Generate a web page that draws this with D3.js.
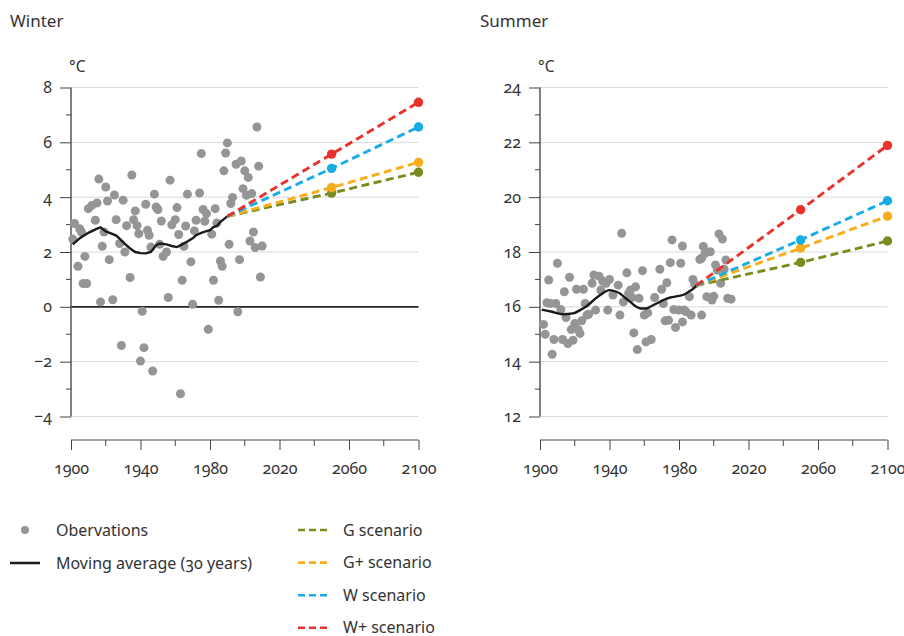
<!DOCTYPE html>
<html>
<head>
<meta charset="utf-8">
<script src="https://cdnjs.cloudflare.com/ajax/libs/d3/7.8.5/d3.min.js"></script>
<style>
  body { margin: 0; background: #fff; }
  svg text { font-family: "Noto Sans", "Open Sans", sans-serif; fill: #333; font-variant-numeric: oldstyle-nums; }
</style>
</head>
<body>
<div id="chart"></div>
<script>
// Winter observations (year, °C)
let winterYears = [1901,1902,1904,1905,1906,1907,1908,1909,1910,1912,1914,1915,1916,1917,1918,1919,1920,1921,1922,1924,1925,1926,1928,1929,1930,1931,1932,1934,1935,1936,1937,1938,1939,1940,1941,1942,1943,1944,1945,1946,1947,1948,1949,1950,1951,1952,1953,1955,1956,1957,1958,1960,1961,1962,1963,1964,1965,1966,1967,1969,1970,1971,1972,1974,1975,1976,1977,1978,1979,1981,1982,1983,1984,1985,1986,1987,1988,1989,1990,1991,1992,1993,1995,1996,1997,1998,1999,2000,2001,2002,2003,2004,2005,2006,2007,2008,2009,2010];
let winterTemps = [2.47,3.04,1.48,2.85,2.73,0.85,1.84,0.85,3.58,3.70,3.16,3.79,4.66,0.18,2.21,2.73,4.37,3.86,1.72,0.26,4.08,3.18,2.31,-1.41,3.89,2.0,2.96,1.07,4.81,3.18,3.50,2.96,2.67,-1.98,-0.16,-1.49,3.74,2.79,2.61,2.18,-2.34,4.11,3.64,3.55,2.28,3.13,1.84,2.0,0.34,4.62,2.99,3.18,3.62,2.64,-3.17,0.97,2.21,2.95,4.11,1.64,0.09,2.77,3.16,4.15,5.59,3.55,3.12,3.40,-0.82,2.65,0.97,3.58,3.06,0.24,1.67,1.48,4.96,5.61,5.98,2.28,3.77,3.99,5.20,-0.18,1.72,5.32,4.31,4.96,4.07,4.72,2.40,4.13,2.73,2.16,6.56,5.13,1.09,2.22];

// Summer observations (year, °C)
let summerYears = [1902,1903,1904,1905,1906,1907,1908,1909,1910,1912,1913,1914,1915,1916,1917,1918,1919,1920,1921,1922,1923,1924,1925,1926,1927,1928,1930,1931,1932,1934,1935,1936,1938,1939,1940,1942,1945,1946,1947,1948,1950,1951,1952,1953,1954,1955,1956,1957,1959,1960,1961,1962,1964,1966,1969,1970,1971,1972,1973,1974,1975,1976,1977,1978,1980,1981,1982,1982,1983,1984,1986,1987,1988,1989,1992,1993,1993,1994,1995,1996,1998,1999,2000,2001,2002,2003,2004,2005,2006,2007,2008,2010];
let summerTemps = [15.36,15.0,16.15,16.98,16.12,14.27,14.81,16.12,17.59,15.9,14.81,16.55,15.61,14.66,17.08,15.17,14.78,15.39,16.64,15.17,15.03,15.49,16.64,16.12,15.7,15.73,16.86,17.16,15.88,17.12,16.61,16.94,16.86,15.88,17.0,16.43,16.79,15.7,18.68,16.18,17.24,16.49,16.61,16.34,15.05,16.73,14.44,16.31,17.32,15.7,14.72,15.78,14.81,16.34,17.37,16.64,16.12,15.49,16.88,15.51,17.61,18.44,15.9,15.25,15.88,17.59,18.22,15.45,15.88,15.82,16.37,15.7,17.0,16.83,17.73,15.7,17.77,18.2,17.95,16.37,18.01,16.25,16.39,17.53,17.34,18.66,16.86,18.47,17.37,17.71,16.31,16.28];

// Moving average (30 years)
let winterMaYears = [1901,1905,1910,1915,1917,1920,1923,1926,1928,1931,1934,1937,1940,1943,1946,1949,1951,1955,1958,1961,1964,1967,1970,1972,1975,1978,1980,1982,1984,1986,1988,1990];
let winterMa = [2.28,2.5,2.7,2.85,2.9,2.75,2.68,2.6,2.49,2.3,2.13,2.0,1.96,1.95,2.0,2.25,2.31,2.28,2.22,2.18,2.28,2.38,2.5,2.61,2.7,2.76,2.8,2.91,2.95,3.1,3.2,3.3];
let summerMaYears = [1901,1907,1913,1919,1923,1927,1931,1935,1940,1944,1946,1949,1952,1955,1958,1961,1964,1967,1971,1975,1980,1983,1986,1988,1990];
let summerMa = [15.9,15.82,15.73,15.76,15.88,16.03,16.25,16.45,16.61,16.55,16.49,16.33,16.18,16.02,15.94,15.94,16.02,16.12,16.25,16.34,16.4,16.45,16.57,16.65,16.78];

// Scenarios
let scenarioYears = [1990, 2050, 2100];
let scenarioNames = ["G scenario", "G+ scenario", "W scenario", "W+ scenario"];
let scenarioColors = ["#7b8b20", "#f8ad1b", "#18ace4", "#e8322b"];
let winterScenarios = [[3.3, 4.15, 4.91], [3.3, 4.35, 5.27], [3.3, 5.05, 6.56], [3.3, 5.57, 7.46]];
let summerScenarios = [[16.78, 17.62, 18.40], [16.78, 18.14, 19.31], [16.78, 18.44, 19.87], [16.78, 19.54, 21.89]];

let yearTicks = [1900, 1940, 1980, 2020, 2060, 2100];
let yearMinor = [1920, 1960, 2000, 2040, 2080];

let svg = d3.select("#chart").append("svg")
    .attr("width", 904)
    .attr("height", 636);

function drawPanel(p) {
    let x = d3.scaleLinear().domain([1900, 2100]).range([p.left, p.left + 347.5]);
    let y = d3.scaleLinear().domain(p.yDomain).range([416.5, 87.5]);
    let g = svg.append("g");

    // titel + eenheid
    g.append("text").attr("x", p.titleX).attr("y", 27)
        .style("font-size", "17px").text(p.title);
    g.append("text").attr("x", p.left - 2).attr("y", 72)
        .style("font-size", "15.5px").text("°C");

    // gridlines
    let majors = d3.range(p.yDomain[0], p.yDomain[1] + 0.1, 2);
    g.append("g").selectAll("line").data(majors).enter().append("line")
        .attr("x1", x(1900)).attr("x2", x(2100))
        .attr("y1", d => y(d)).attr("y2", d => y(d))
        .attr("stroke", d => d === 0 ? "#222" : "#dadada")
        .attr("stroke-width", d => d === 0 ? 1.6 : 1);

    // y axis
    let yAxis = g.append("g").attr("transform", `translate(${x(1900)},0)`);
    yAxis.call(d3.axisLeft(y).tickValues(majors).tickSize(11).tickPadding(8).tickFormat(d3.format("d")));
    yAxis.append("g").selectAll("line")
        .data(d3.range(p.yDomain[0] + 1, p.yDomain[1], 2)).enter().append("line")
        .attr("x1", -5).attr("x2", 0).attr("y1", d => y(d)).attr("y2", d => y(d))
        .attr("stroke", "#444");
    yAxis.selectAll(".domain").attr("d", `M0,${y(p.yDomain[0])}V${y(p.yDomain[1])}`)
        .attr("stroke", "#555").attr("stroke-width", 1.5);
    yAxis.selectAll(".tick line").attr("stroke", "#444");
    yAxis.selectAll("text").style("font-size", "16px").attr("fill", "#333").style("font-family", null);

    // x axis
    let xAxis = g.append("g").attr("transform", "translate(0,440)");
    xAxis.call(d3.axisBottom(x).tickValues(yearTicks).tickSize(10).tickPadding(13).tickFormat(d3.format("d")));
    xAxis.selectAll(".domain").attr("d", `M${x(1900)},0H${x(2100)}`).attr("stroke", "#444");
    xAxis.selectAll(".tick line").attr("stroke", "#444");
    xAxis.append("g").selectAll("line").data(yearMinor).enter().append("line")
        .attr("x1", d => x(d)).attr("x2", d => x(d)).attr("y1", 0).attr("y2", 6)
        .attr("stroke", "#444");
    xAxis.selectAll("text").style("font-size", "16px").attr("fill", "#333").style("font-family", null);

    // observations
    g.append("g").selectAll("circle").data(p.obsYears).enter().append("circle")
        .attr("cx", d => x(d)).attr("cy", (d, i) => y(p.obsTemps[i]))
        .attr("r", 4.5).attr("fill", "#959595");

    // moving average
    let ma = p.maYears.map((d, i) => [d, p.ma[i]]);
    g.append("path").datum(ma)
        .attr("fill", "none").attr("stroke", "#1a1a1a").attr("stroke-width", 2.4)
        .attr("d", d3.line().x(d => x(d[0])).y(d => y(d[1])).curve(p.curve));

    // scenarios
    p.scenarios.forEach((s, k) => {
        let pts = scenarioYears.map((d, i) => [d, s[i]]);
        g.append("path").datum(pts)
            .attr("fill", "none").attr("stroke", scenarioColors[k]).attr("stroke-width", 2.9)
            .attr("stroke-dasharray", "8,4.5")
            .attr("d", d3.line().x(d => x(d[0])).y(d => y(d[1])));
        g.selectAll(null).data(pts.slice(1)).enter().append("circle")
            .attr("cx", d => x(d[0])).attr("cy", d => y(d[1]))
            .attr("r", 4.7).attr("fill", scenarioColors[k]);
    });
}

drawPanel({
    title: "Winter", titleX: 10, left: 71, yDomain: [-4, 8],
    obsYears: winterYears, obsTemps: winterTemps,
    maYears: winterMaYears, ma: winterMa, curve: d3.curveLinear,
    scenarios: winterScenarios
});
drawPanel({
    title: "Summer", titleX: 480, left: 540, yDomain: [12, 24],
    obsYears: summerYears, obsTemps: summerTemps,
    maYears: summerMaYears, ma: summerMa, curve: d3.curveMonotoneX,
    scenarios: summerScenarios
});

// legend
let legend = svg.append("g").style("font-size", "16px");
legend.append("circle").attr("cx", 25).attr("cy", 530).attr("r", 4).attr("fill", "#959595");
legend.append("text").attr("x", 56).attr("y", 535.5).text("Obervations");
legend.append("line").attr("x1", 10).attr("x2", 40).attr("y1", 563).attr("y2", 563)
    .attr("stroke", "#1a1a1a").attr("stroke-width", 2.5);
legend.append("text").attr("x", 56).attr("y", 568.5).text("Moving average (30 years)");

scenarioNames.forEach((name, k) => {
    let yy = 530 + k * 32.6;
    legend.append("line").attr("x1", 298).attr("x2", 328).attr("y1", yy).attr("y2", yy)
        .attr("stroke", scenarioColors[k]).attr("stroke-width", 2.6).attr("stroke-dasharray", "7,4");
    legend.append("text").attr("x", 343).attr("y", yy + 5.5).text(name);
});
</script>
</body>
</html>
